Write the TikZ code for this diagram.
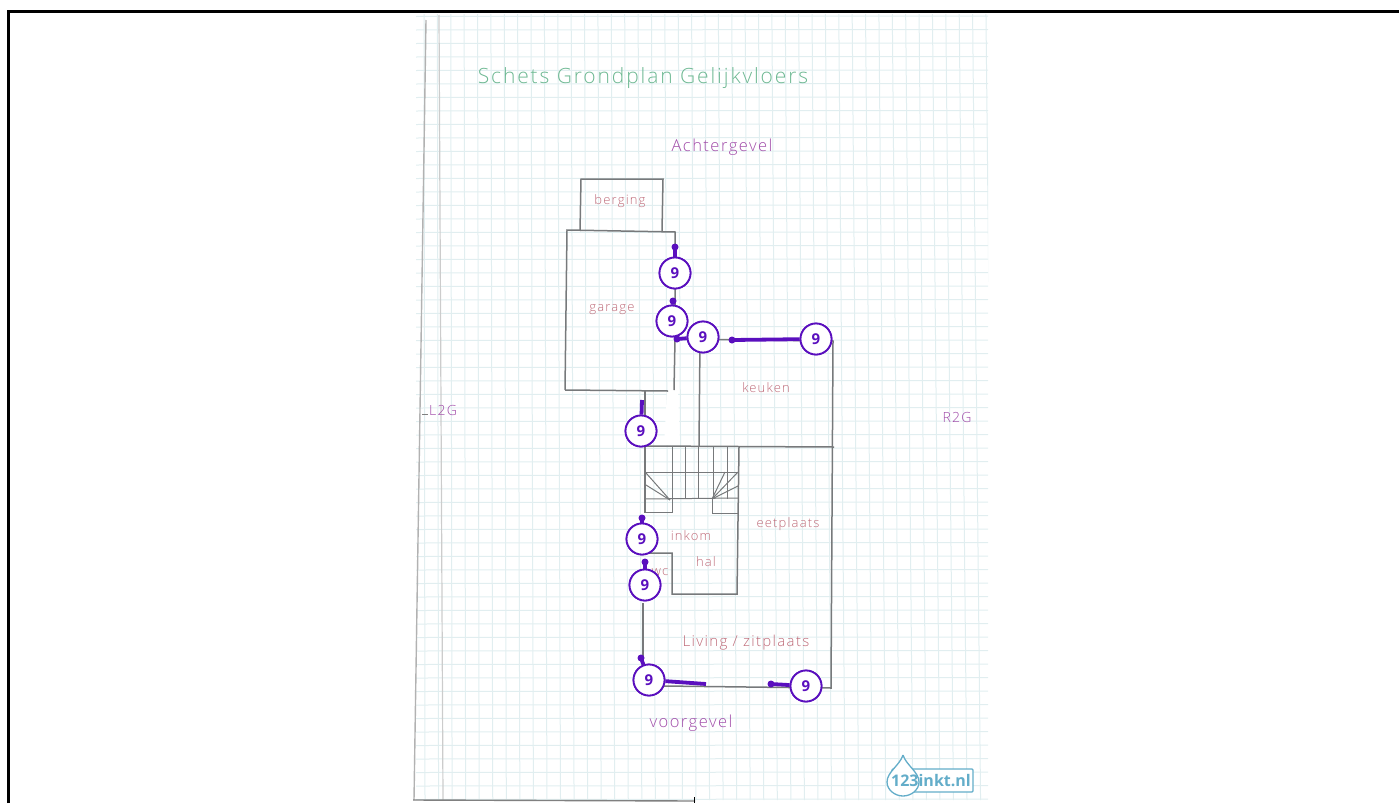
\documentclass[tikz,border=0pt]{standalone}
\usepackage{fontspec}
\setmainfont{Open Sans Light}[BoldFont={Open Sans Bold}]
\newfontfamily\badgefont{Open Sans Bold}
\newfontfamily\wideface{Open Sans Light}[LetterSpace=9]
\definecolor{gridblue}{HTML}{E1EEF0}
\definecolor{wallgrey}{HTML}{77797B}
\definecolor{badgeviolet}{HTML}{5A0FBE}
\definecolor{titlegreen}{HTML}{6DB892}
\definecolor{roomred}{HTML}{BE6A78}
\definecolor{sidepurple}{HTML}{A04AA8}
\definecolor{logoblue}{HTML}{63ADC9}
\tikzset{
  wall/.style={draw=wallgrey, line width=1.5pt},
  tread/.style={draw=wallgrey, line width=1pt},
  badge/.style={draw=badgeviolet, fill=white, circle, line width=1.8pt, minimum width=31pt, inner sep=0pt, text=badgeviolet, font=\badgefont\fontsize{15}{15}\selectfont},
  leader/.style={draw=badgeviolet, line width=3.8pt},
  tipdot/.style={circle, fill=badgeviolet, minimum width=7pt, inner sep=0pt},
  room/.style={text=roomred, font=\wideface\fontsize{13}{13}\selectfont},
  side/.style={text=sidepurple, font=\wideface\fontsize{16.5}{16.5}\selectfont},
}
\begin{document}
\begin{tikzpicture}[x=1pt, y=-1pt]
      \useasboundingbox (0,0) rectangle (1399,803);

      %paper grid
      \begin{scope}
      \clip (416,14) rectangle (988,800);
      \foreach \i in {0,...,42} {
        \draw[gridblue, line width=1pt] ({424+13.38*\i},14) -- ({425+13.55*\i},800);
      }
      \foreach \i in {0,...,58} {
        \draw[gridblue, line width=1pt] (416,{16.5+13.5*\i}) -- (988,{16+13.5*\i});
      }
      \end{scope}
      \draw[gray!60, line width=1.4pt] (426,20) -- (414,800);
      \draw[gray!40, line width=1.2pt] (439,15) -- (443,800);
      \draw[gray, line width=1.4pt] (413,800) -- (695,801);
      \draw[black, line width=0.8pt] (694,797) -- (694,803);
      \draw[gray, line width=0.8pt] (422,414) -- (428,414);
      \fill[white] (667,391) -- (678,391) -- (680,445) -- (664,445) -- cycle;

      %frame
      \draw[black, line width=3pt] (8.5,803) -- (8.5,11) -- (1399,11);

      %walls
      \draw[wall] (580,231) -- (581,179) -- (663,179) -- (662,231);
      \draw[wall] (565,390) -- (567,230) -- (675,232) -- (675,339);
      \draw[wall] (675,339) -- (674,390);
      \draw[wall] (565,390) -- (668,391);
      \draw[wall] (645,390) -- (645,513);
      \draw[wall] (675,339) -- (833,341) -- (831,688) -- (663,686);
      \draw[wall] (700,340) -- (699,446);
      \draw[wall] (645,446) -- (834,447);
      \draw[wall] (643,603) -- (643,680);
      \draw[wall] (739,447) -- (737,594) -- (672,594) -- (672,553) -- (647,553);

      %stairs
      \foreach \x in {672,685,698,713,727} {
        \draw[tread] (\x,447) -- (\x,499);
      }
      \draw[tread] (646,472) -- (739,472);
      \draw[tread] (645,499) -- (738,498);
      \draw[tread] (645,512) -- (672,512) -- (672,499);
      \draw[tread] (712,499) -- (712,513) -- (739,513);
      \draw[tread] (670,500) -- (646,473);
      \draw[tread] (670,500) -- (646,485);
      \draw[tread] (712,499) -- (725,472);
      \draw[tread] (712,499) -- (738,472);
      \draw[tread] (712,499) -- (738,486);

      %labels
      \node[text=titlegreen, font=\wideface\fontsize{21}{21}\selectfont, name=title] at (643,78) {Schets Grondplan Gelijkvloers};
      \node[side, name=back ] at (722,147) {Achtergevel};
      \node[side, name=front] at (691,723) {voorgevel};
      \node[side, font=\wideface\fontsize{14}{14}\selectfont, name=left ] at (443,410) {L2G};
      \node[side, font=\wideface\fontsize{14}{14}\selectfont, name=right] at (957,417) {R2G};
      \node[room, name=berging] at (620,201) {berging};
      \node[room, name=garage ] at (612,310) {garage};
      \node[room, name=keuken ] at (766,388) {keuken};
      \node[room, name=eet    ] at (788,524) {eetplaats};
      \node[room, name=inkom  ] at (691,536) {inkom};
      \node[room, name=hal    ] at (706,562) {hal};
      \node[room, name=wc     ] at (660,572) {wc};
      \node[room, font=\wideface\fontsize{15}{15}\selectfont, name=living ] at (746,643) {Living / zitplaats};

      %leader ends
      \coordinate (endA)  at (675,247);
      \coordinate (endB)  at (673,301);
      \coordinate (endC)  at (677,339);
      \coordinate (endD)  at (732,340);
      \coordinate (endE)  at (642,400);
      \coordinate (endF)  at (642,518);
      \coordinate (endG)  at (645,562);
      \coordinate (endH)  at (641,658);
      \coordinate (endHb) at (706,684);
      \coordinate (endI)  at (771,684);

      %badges
      \node[badge, name=nineA] at (675,273) {9};
      \node[badge, name=nineB] at (672,321) {9};
      \node[badge, name=nineC] at (703,337) {9};
      \node[badge, name=nineD] at (816,339) {9};
      \node[badge, name=nineE] at (641,431) {9};
      \node[badge, name=nineF] at (642,539) {9};
      \node[badge, name=nineG] at (645,585) {9};
      \node[badge, name=nineH] at (649,680) {9};
      \node[badge, name=nineI] at (806,686) {9};

      %leaders
      \draw[leader] (nineA) -- (endA) node[tipdot] {};
      \draw[leader] (nineB) -- (endB) node[tipdot] {};
      \draw[leader] (nineC) -- (endC) node[tipdot] {};
      \draw[leader] (nineD) -- (endD) node[tipdot] {};
      \draw[leader] (nineE) -- (endE);
      \draw[leader] (nineF) -- (endF) node[tipdot] {};
      \draw[leader] (nineG) -- (endG) node[tipdot] {};
      \draw[leader] (nineH) -- (endH) node[tipdot] {};
      \draw[leader] (nineH) -- (endHb);
      \draw[leader] (nineI) -- (endI) node[tipdot] {};
      \foreach \n in {A,B,C,D,E,F,G,H,I} {
        \node[badge] at (nine\n) {9};
      }

      %logo
      \draw[logoblue, line width=1.3pt, rounded corners=1pt, fill=white] (892,769) rectangle (973,792);
      \draw[logoblue, line width=1.3pt, fill=white] (903,755) .. controls (906,765) and (919,772) .. (919,782) .. controls (919,790) and (911,796) .. (903,796) .. controls (895,796) and (887,790) .. (887,782) .. controls (887,772) and (900,765) .. (903,755);
      \node[text=logoblue, font=\badgefont\fontsize{16}{16}\selectfont, name=logo] at (931,781) {123inkt.nl};
\end{tikzpicture}
\end{document}
